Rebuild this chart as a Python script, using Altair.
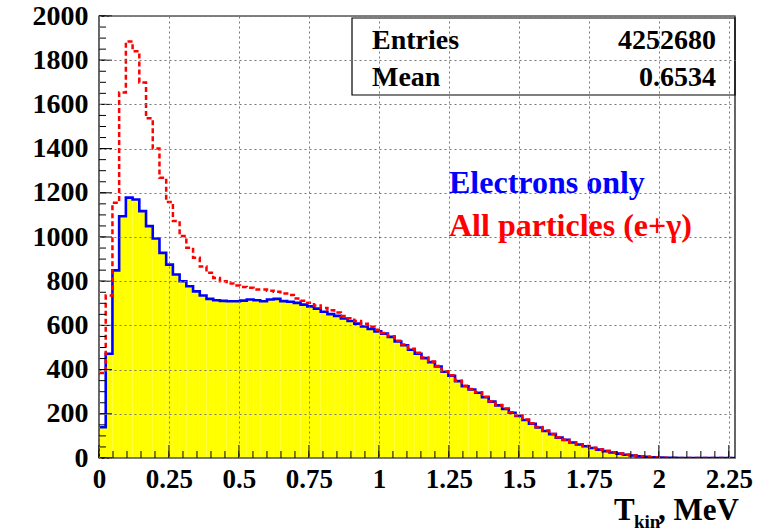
import altair as alt
import pandas as pd

# ---------------- data ----------------
BIN_WIDTH = 0.024  # MeV
electrons = [139, 472, 849, 1094, 1178, 1170, 1117, 1049, 993, 928, 875, 830, 800, 777, 754, 735,
             720, 714, 711, 709, 709, 712, 717, 714, 709, 717, 720,
             710, 707, 702, 694, 686, 676, 662, 651, 643, 631, 620, 608, 595, 584, 573, 563,
             548, 527, 510, 490, 472, 452, 434, 414, 390, 372, 348, 325, 310, 295, 275, 255, 238,
             222, 205, 190, 172, 155, 138, 122, 108, 92, 82, 70, 61, 53, 45, 38, 31, 25, 20, 15,
             11, 8, 5, 3, 2, 1, 0.5,
             0, 0, 0, 0, 0, 0, 0, 0, 0]
all_particles = [385, 735, 1155, 1654, 1885, 1840, 1699, 1537, 1400, 1268, 1158, 1072, 1004, 951,
                 906, 866, 838, 815, 800, 790, 780, 774, 770, 762, 762, 757, 752,
                 744, 738, 722, 712, 702, 690, 679, 668, 658, 642, 632, 620, 607, 594, 580, 566,
                 551, 531, 514, 494, 476, 455, 437, 416, 392, 374, 350, 327, 312, 297, 277, 257, 240,
                 224, 207, 192, 174, 157, 140, 124, 109, 94, 83, 71, 62, 54, 46, 39, 32, 26, 20, 15,
                 11, 8, 5, 3, 2, 1, 0.5,
                 0, 0, 0, 0, 0, 0, 0, 0, 0]
x_ticks = [0, 0.25, 0.5, 0.75, 1, 1.25, 1.5, 1.75, 2, 2.25]
y_ticks = [0, 200, 400, 600, 800, 1000, 1200, 1400, 1600, 1800, 2000]
x_minor = [round(k * 0.05, 2) for k in range(0, 46)]
y_minor = [k * 50 for k in range(0, 41)]
stats_labels = ["Entries", "Mean"]
stats_values = ["4252680", "0.6534"]
legend_electrons = "Electrons only"
legend_all = "All particles (e+\u03b3)"

# ---------------- layout ----------------
W, H = 636, 442
X_MAX = 2.272
Y_MAX = 2000
FONT = "Liberation Serif"
GRID = "#777777"

n = len(electrons)
rows = [{"i": i, "x": i * BIN_WIDTH, "e": electrons[i], "a": all_particles[i]} for i in range(n)]
rows.append({"i": n, "x": n * BIN_WIDTH, "e": electrons[-1], "a": all_particles[-1]})
hist = pd.DataFrame(rows)

xs = alt.Scale(domain=[0, X_MAX], nice=False, zero=False)
ys = alt.Scale(domain=[0, Y_MAX], nice=False)

x_axis = alt.Axis(values=x_ticks, labelExpr="'' + datum.value", grid=True, gridColor=GRID,
                  gridDash=[2, 3], gridWidth=1, ticks=False, domain=False,
                  labelFont=FONT, labelFontWeight="bold", labelFontSize=27,
                  labelColor="black", labelPadding=8, labelFlush=False,
                  labelOverlap=False, labelBound=False, title=None, zindex=1)
y_axis = alt.Axis(values=y_ticks, format="d", grid=True, gridColor=GRID,
                  gridDash=[2, 3], gridWidth=1, ticks=False, domain=False,
                  labelFont=FONT, labelFontWeight="bold", labelFontSize=28,
                  labelColor="black", labelPadding=11, labelFlush=False,
                  labelOverlap=False, labelBound=False, title=None, zindex=1)

base = alt.Chart(hist)

fill = base.mark_area(interpolate="step-after", color="#ffff00", opacity=1, clip=True).encode(
    x=alt.X("x:Q", scale=xs, axis=x_axis),
    y=alt.Y("e:Q", scale=ys, axis=y_axis),
    order=alt.Order("i:Q"),
)
blue = base.mark_line(interpolate="step-after", color="#0000ff", strokeWidth=2.6, clip=True).encode(
    x=alt.X("x:Q", scale=xs, axis=x_axis),
    y=alt.Y("e:Q", scale=ys, axis=y_axis),
    order=alt.Order("i:Q"),
)
red = base.mark_line(interpolate="step-after", color="#ff0000", strokeWidth=2.5,
                     strokeDash=[5, 3], clip=True).encode(
    x=alt.X("x:Q", scale=xs, axis=x_axis),
    y=alt.Y("a:Q", scale=ys, axis=y_axis),
    order=alt.Order("i:Q"),
)

# inward ROOT-style ticks
def xtick_layer(vals, length):
    return alt.Chart(pd.DataFrame({"t": vals})).mark_rule(color="black", strokeWidth=1).encode(
        x=alt.X("t:Q", scale=xs, axis=x_axis), y=alt.value(H), y2=alt.value(H - length))

def ytick_layer(vals, length):
    return alt.Chart(pd.DataFrame({"t": vals})).mark_rule(color="black", strokeWidth=1).encode(
        y=alt.Y("t:Q", scale=ys, axis=y_axis), x=alt.value(0), x2=alt.value(length))

one = pd.DataFrame({"k": [0]})

def text(txt, x, y, size, color="black", align="left"):
    return alt.Chart(one).mark_text(font=FONT, fontWeight="bold", fontSize=size, color=color,
                                    align=align, baseline="alphabetic").encode(
        x=alt.value(x), y=alt.value(y), text=alt.value(txt))

frame = alt.Chart(one).mark_rect(fill=None, stroke="black", strokeWidth=1.2).encode(
    x=alt.value(0), x2=alt.value(W), y=alt.value(0), y2=alt.value(H))
stats_box = alt.Chart(one).mark_rect(fill=None, stroke="black", strokeWidth=1.2).encode(
    x=alt.value(253), x2=alt.value(W), y=alt.value(2), y2=alt.value(79))

layers = [fill, blue, red,
          xtick_layer(x_ticks, 13), xtick_layer(x_minor, 7),
          ytick_layer(y_ticks, 13), ytick_layer(y_minor, 7),
          frame, stats_box,
          text(stats_labels[0], 273, 33, 28), text(stats_values[0], 617, 33, 28, align="right"),
          text(stats_labels[1], 273, 70, 28), text(stats_values[1], 617, 70, 28, align="right"),
          text(legend_electrons, 350, 177, 32, color="#0000ff"),
          text(legend_all, 350, 220, 32, color="#ff0000"),
          text("T", 515, 504, 31), text("kin", 535, 512, 19), text(", MeV", 559, 504, 31)]

chart = alt.layer(*layers).properties(
    width=W, height=H,
    autosize=alt.AutoSizeParams(type="none"),
    padding={"left": 99, "top": 16, "right": 31, "bottom": 73},
    background="white",
).configure_view(stroke=None)

chart.save("out.html", embed_options={"renderer": "svg", "actions": False})
